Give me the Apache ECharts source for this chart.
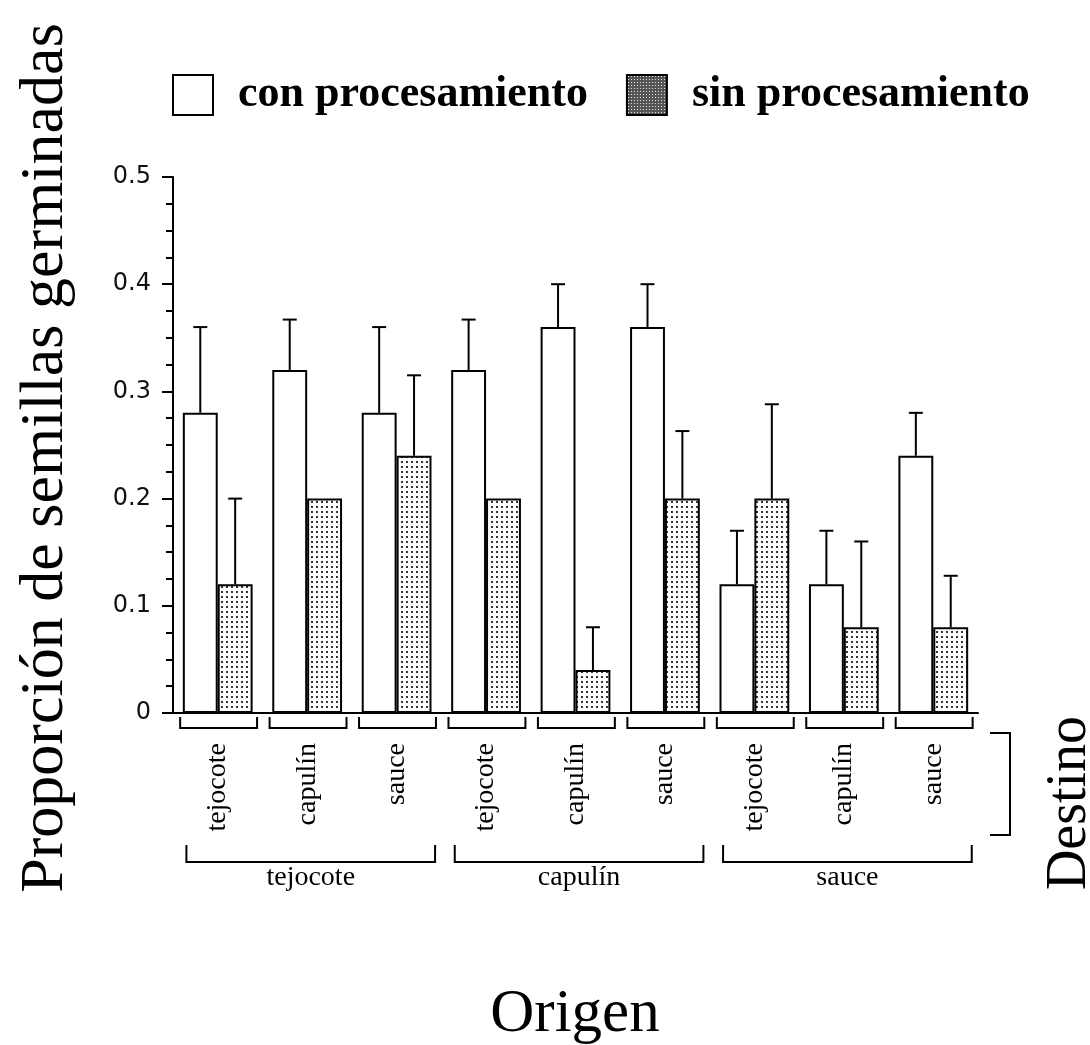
<!DOCTYPE html>
<html>
<head>
<meta charset="utf-8">
<script src="https://cdn.jsdelivr.net/npm/echarts@6/dist/echarts.min.js"></script>
<style>
html,body{margin:0;padding:0;background:#fff;}
#c{width:1090px;height:1045px;}
</style>
</head>
<body>
<div id="c"></div>
<script>
// ---- data ----
const destino = ['tejocote','capulín','sauce','tejocote','capulín','sauce','tejocote','capulín','sauce'];
const origen = ['tejocote','capulín','sauce'];
const conProc = [0.28,0.32,0.28,0.32,0.36,0.36,0.12,0.12,0.24];
const conErr  = [0.08,0.047,0.08,0.047,0.04,0.04,0.05,0.05,0.04];
const sinProc = [0.12,0.20,0.24,0.20,0.04,0.20,0.20,0.08,0.08];
const sinErr  = [0.08,null,0.075,null,0.04,0.063,0.088,0.08,0.048];
const yTicks = [0,0.1,0.2,0.3,0.4,0.5];
const seriesNames = ['con procesamiento','sin procesamiento'];

// ---- patterns ----
function makePattern(size, bg, dot, dotSize){
  const cv = document.createElement('canvas');
  cv.width = size; cv.height = size;
  const ctx = cv.getContext('2d');
  ctx.fillStyle = bg; ctx.fillRect(0,0,size,size);
  ctx.fillStyle = dot; ctx.fillRect(1,1,dotSize,dotSize);
  return {image: cv, repeat: 'repeat'};
}
const barPattern = makePattern(5, '#ffffff', '#333333', 2);
const legendPattern = makePattern(3, '#555555', '#e8e8e8', 1);

const serif = '"Liberation Serif", "Times New Roman", serif';

function errItems(vals, errs){
  const out = [];
  vals.forEach((v,i)=>{ if(errs[i] != null) out.push([i, v, errs[i]]); });
  return out;
}
function errRender(sign){
  return function(params, api){
    const i = api.value(0), v = api.value(1), e = api.value(2);
    const band = api.size([1,0])[0];
    const b = api.coord([i, v]);
    const t = api.coord([i, v + e]);
    const x = b[0] + sign * band * 0.195;
    return {type:'group', children:[
      {type:'line', shape:{x1:x, y1:b[1], x2:x, y2:t[1]}, style:{stroke:'#000', lineWidth:2}},
      {type:'line', shape:{x1:x-7, y1:t[1], x2:x+7, y2:t[1]}, style:{stroke:'#000', lineWidth:2}}
    ]};
  };
}

const chart = echarts.init(document.getElementById('c'), null, {renderer:'canvas'});
chart.setOption({
  backgroundColor:'#fff',
  animation:false,
  textStyle:{fontFamily: serif, color:'#000'},
  legend:{
    left:167, top:68, itemWidth:40, itemHeight:40, itemGap:38, icon:'rect',
    selectedMode:false,
    textStyle:{fontFamily: serif, fontSize:44, fontWeight:'bold', color:'#000', padding:[0,0,0,20]},
    data:[
      {name:seriesNames[0], itemStyle:{color:'#fff', borderColor:'#000', borderWidth:2}},
      {name:seriesNames[1], itemStyle:{color:legendPattern, borderColor:'#000', borderWidth:2}}
    ]
  },
  grid:{left:173, right:112, top:177, bottom:332, containLabel:false},
  xAxis:{
    type:'category', data:destino,
    axisLine:{lineStyle:{color:'#000', width:2}},
    axisTick:{show:false},
    axisLabel:{rotate:90, margin:30, fontFamily:serif, fontSize:28, color:'#000', interval:0},
    splitLine:{show:false}
  },
  yAxis:{
    type:'value', min:0, max:0.5, interval:0.1,
    axisLine:{show:true, lineStyle:{color:'#000', width:2}},
    axisTick:{show:true, length:11, lineStyle:{color:'#000', width:2}},
    minorTick:{show:true, splitNumber:4, length:7, lineStyle:{color:'#000', width:2}},
    axisLabel:{margin:22, fontFamily:'"DejaVu Sans", sans-serif', fontSize:24, color:'#111',
      formatter:function(v){ return v === 0 ? '0' : v.toFixed(1); }},
    splitLine:{show:false}
  },
  series:[
    {name:seriesNames[0], type:'bar', data:conProc, barWidth:'39%', barGap:'0%',
     itemStyle:{color:'#fff', borderColor:'#000', borderWidth:2}},
    {name:seriesNames[1], type:'bar', data:sinProc, barWidth:'39%', barGap:'0%',
     itemStyle:{color:barPattern, borderColor:'#000', borderWidth:2}},
    {type:'custom', name:'errCon', z:5, silent:true, clip:false,
     encode:{x:0, y:1}, data:errItems(conProc, conErr), renderItem:errRender(-1)},
    {type:'custom', name:'errSin', z:5, silent:true, clip:false,
     encode:{x:0, y:1}, data:errItems(sinProc, sinErr), renderItem:errRender(1)},
    {type:'custom', name:'destBrackets', silent:true, clip:false,
     encode:{x:0, y:1}, data:destino.map((d,i)=>[i,0]),
     renderItem:function(params, api){
       const p = api.coord([api.value(0), 0]);
       const band = api.size([1,0])[0];
       const l = p[0] - band*0.42, r = p[0] + band*0.44;
       const y0 = p[1] + 4, y1 = p[1] + 15;
       return {type:'polyline', shape:{points:[[l,y0],[l,y1],[r,y1],[r,y0]]},
               style:{stroke:'#000', lineWidth:2, fill:null}};
     }},
    {type:'custom', name:'origBrackets', silent:true, clip:false,
     encode:{x:0, y:1}, data:origen.map((o,g)=>[g*3, 0, g*3+2, g]),
     renderItem:function(params, api){
       const a = api.coord([api.value(0), 0]);
       const b = api.coord([api.value(2), 0]);
       const band = api.size([1,0])[0];
       const l = a[0] - band*0.35, r = b[0] + band*0.43;
       const y0 = a[1] + 132, y1 = a[1] + 149;
       return {type:'group', children:[
         {type:'polyline', shape:{points:[[l,y0],[l,y1],[r,y1],[r,y0]]},
          style:{stroke:'#000', lineWidth:2, fill:null}},
         {type:'text', style:{text:origen[api.value(3)], x:(l+r)/2, y:a[1]+165,
          align:'center', verticalAlign:'middle', fontFamily:serif, fontSize:28, fill:'#000'}}
       ]};
     }}
  ],
  graphic:[
    {type:'text', rotation:Math.PI/2, x:46, y:458,
     style:{text:'Proporción de semillas germinadas', fontFamily:serif, fontSize:62,
            fill:'#000', align:'center', verticalAlign:'middle'}},
    {type:'text', x:575, y:1015,
     style:{text:'Origen', fontFamily:serif, fontSize:61, fill:'#000', align:'center', verticalAlign:'middle'}},
    {type:'text', rotation:Math.PI/2, x:1070, y:803,
     style:{text:'Destino', fontFamily:serif, fontSize:56, fill:'#000', align:'center', verticalAlign:'middle'}},
    {type:'polyline', shape:{points:[[990,733],[1010,733],[1010,835],[990,835]]},
     style:{stroke:'#000', lineWidth:2, fill:null}}
  ]
});
</script>
</body>
</html>
